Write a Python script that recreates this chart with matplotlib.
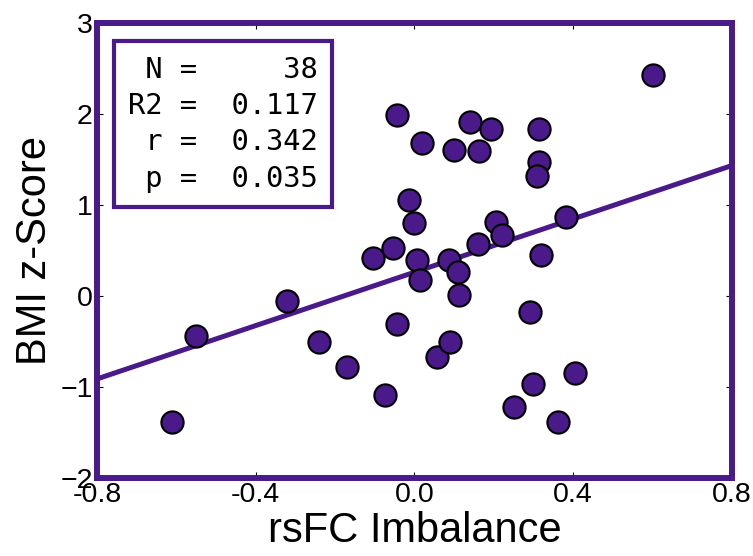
#!/usr/bin/env python
"""bmi_rsfc_scatter.py

Scatter of BMI z-score against rsFC imbalance with a least-squares fit
and a small stats box in the upper-left corner.
"""

import numpy as np
import matplotlib

matplotlib.use("Agg")
import matplotlib.pyplot as plt

PURPLE = "#4a1a8a"

# one point per subject
rsfc_imbalance = [
    -0.61, -0.55, -0.32, -0.24, -0.17, -0.075, -0.105, -0.055, -0.045, -0.045,
    -0.015, 0.0, 0.006, 0.014, 0.02, 0.056, 0.087, 0.09, 0.10, 0.11,
    0.113, 0.14, 0.16, 0.162, 0.193, 0.205, 0.22, 0.25, 0.29, 0.298,
    0.313, 0.313, 0.308, 0.32, 0.361, 0.381, 0.404, 0.60,
]
bmi_z = [
    -1.39, -0.44, -0.05, -0.50, -0.78, -1.09, 0.42, 0.53, 1.99, -0.31,
    1.05, 0.80, 0.40, 0.18, 1.68, -0.67, 0.40, -0.50, 1.61, 0.26,
    0.01, 1.91, 0.57, 1.59, 1.83, 0.81, 0.67, -1.22, -0.18, -0.97,
    1.83, 1.47, 1.32, 0.45, -1.385, 0.87, -0.85, 2.43,
]

stats_labels = ["N", "R2", "r", "p"]
stats_values = ["38", "0.117", "0.342", "0.035"]

x_ticks = [-0.8, -0.4, 0.0, 0.4, 0.8]
x_ticklabels = ["-0.8", "-0.4", "0.0", "0.4", "0.8"]
y_ticks = [-2, -1, 0, 1, 2, 3]


def stats_text(labels, values):
    """Right-aligned 'name = value' block for a monospace font."""
    return "\n".join(f"{lab:>2} = {val:>6}" for lab, val in zip(labels, values))


def main():
    plt.rcParams["font.family"] = ["Liberation Sans", "DejaVu Sans"]

    fig = plt.figure(figsize=(7.53, 5.56), dpi=100)
    ax = fig.add_axes([0.1288, 0.1403, 0.8433, 0.8183])

    x = np.array(rsfc_imbalance)
    y = np.array(bmi_z)

    # least-squares fit across the full x range
    slope, intercept = np.polyfit(x, y, 1)
    xs = np.array([-0.8, 0.8])
    ax.plot(xs, slope * xs + intercept, color=PURPLE, lw=3.6, zorder=2)

    ax.plot(x, y, "o", ms=16, mfc=PURPLE, mec="black", mew=1.5, zorder=3)

    ax.set_xlim(-0.8, 0.8)
    ax.set_ylim(-2, 3)
    ax.set_xticks(x_ticks)
    ax.set_xticklabels(x_ticklabels)
    ax.set_yticks(y_ticks)
    ax.tick_params(direction="in", length=4, width=0.8, top=True, right=True,
                   labelsize=20.5)
    ax.tick_params(axis="x", pad=3)
    ax.tick_params(axis="y", pad=3)

    for sp in ax.spines.values():
        sp.set_color(PURPLE)
        sp.set_linewidth(4.3)
        sp.set_zorder(4)

    ax.set_xlabel("rsFC Imbalance", fontsize=30, labelpad=2)
    ax.set_ylabel("BMI z-Score", fontsize=30, labelpad=4)

    ax.text(0.049, 0.928, stats_text(stats_labels, stats_values),
            transform=ax.transAxes, ha="left", va="top",
            family="DejaVu Sans Mono", fontsize=20.7, linespacing=1.38,
            bbox=dict(boxstyle="square,pad=0.5", fc="white", ec=PURPLE, lw=3),
            zorder=5)

    fig.savefig("out.png", dpi=100)


if __name__ == "__main__":
    main()
